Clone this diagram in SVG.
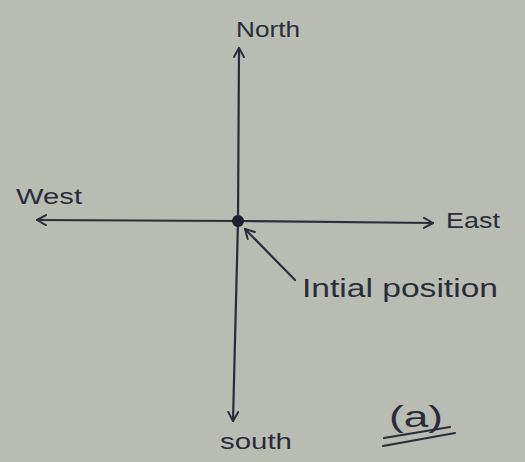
<svg xmlns="http://www.w3.org/2000/svg" width="525" height="462" viewBox="0 0 525 462">
<style>
.ink{stroke:#2b2d3b;stroke-width:2.2;fill:none;stroke-linecap:round;stroke-linejoin:round}
.lbl{font-family:"Liberation Sans",Arial,sans-serif;font-size:22px;fill:#2b2d3b}
</style>
<defs>
<marker id="ah" viewBox="0 0 12 12" refX="10" refY="6" markerWidth="12" markerHeight="12" markerUnits="userSpaceOnUse" orient="auto">
<path d="M1,1 L10,6 L1,11" fill="none" stroke="#2b2d3b" stroke-width="2" stroke-linecap="round" stroke-linejoin="round"/>
</marker>
</defs>
<rect width="525" height="462" fill="#b8bcb3"/>
<g id="connectors">
<line class="ink" x1="238" y1="221" x2="239" y2="48" marker-end="url(#ah)"/>
<line class="ink" x1="238" y1="221" x2="233" y2="421" marker-end="url(#ah)"/>
<line class="ink" x1="238" y1="221" x2="37" y2="220" marker-end="url(#ah)"/>
<line class="ink" x1="238" y1="221" x2="433" y2="223" marker-end="url(#ah)"/>
<line class="ink" x1="295" y1="280" x2="245" y2="229" marker-end="url(#ah)"/>
</g>
<g id="origin"><circle cx="238" cy="221" r="6" fill="#1f2130"/></g>
<g id="north"><text class="lbl" x="236" y="37" textLength="64" lengthAdjust="spacingAndGlyphs">North</text></g>
<g id="west"><text class="lbl" x="16" y="204" textLength="66" lengthAdjust="spacingAndGlyphs">West</text></g>
<g id="east"><text class="lbl" x="446" y="228" textLength="54" lengthAdjust="spacingAndGlyphs">East</text></g>
<g id="south"><text class="lbl" x="220" y="449" textLength="72" lengthAdjust="spacingAndGlyphs">south</text></g>
<g id="initial"><text class="lbl" x="302" y="297" style="font-size:25px" textLength="196" lengthAdjust="spacingAndGlyphs">Intial position</text></g>
<g id="label-a">
<text class="lbl" x="389" y="427" style="font-size:30px" textLength="54" lengthAdjust="spacingAndGlyphs">(a)</text>
<path class="ink" d="M384,438 L450,427 M383,446 L455,433"/>
</g>
</svg>
